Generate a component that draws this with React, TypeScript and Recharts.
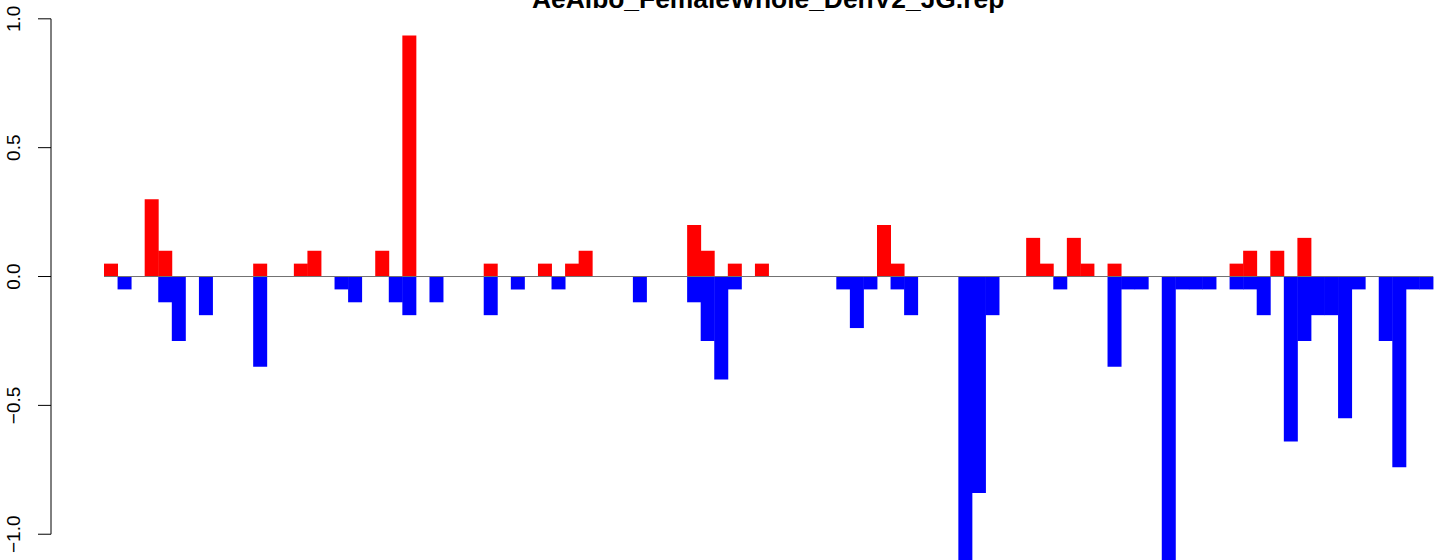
import React from "react";
import { BarChart, Bar, XAxis, YAxis, ReferenceLine } from "recharts";

const TITLE = "AeAlbo_FemaleWhole_DenV2_JG.rep";

const POSITIVE = [
  0.05, 0, 0, 0.3, 0.1, 0, 0, 0, 0, 0,
  0, 0.05, 0, 0, 0.05, 0.1, 0, 0, 0, 0,
  0.1, 0, 0.935, 0, 0, 0, 0, 0, 0.05, 0,
  0, 0, 0.05, 0, 0.05, 0.1, 0, 0, 0, 0,
  0, 0, 0, 0.2, 0.1, 0, 0.05, 0, 0.05, 0,
  0, 0, 0, 0, 0, 0, 0, 0.2, 0.05, 0,
  0, 0, 0, 0, 0, 0, 0, 0, 0.15, 0.05,
  0, 0.15, 0.05, 0, 0.05, 0, 0, 0, 0, 0,
  0, 0, 0, 0.05, 0.1, 0, 0.1, 0, 0.15, 0,
  0, 0, 0, 0, 0, 0, 0, 0,
];

const NEGATIVE = [
  0, -0.05, 0, 0, -0.1, -0.25, 0, -0.15, 0, 0,
  0, -0.35, 0, 0, 0, 0, 0, -0.05, -0.1, 0,
  0, -0.1, -0.15, 0, -0.1, 0, 0, 0, -0.15, 0,
  -0.05, 0, 0, -0.05, 0, 0, 0, 0, 0, -0.1,
  0, 0, 0, -0.1, -0.25, -0.4, -0.05, 0, 0, 0,
  0, 0, 0, 0, -0.05, -0.2, -0.05, 0, -0.05, -0.15,
  0, 0, 0, -1.15, -0.84, -0.15, 0, 0, 0, 0,
  -0.05, 0, 0, 0, -0.35, -0.05, -0.05, 0, -1.15, -0.05,
  -0.05, -0.05, 0, -0.05, -0.05, -0.15, 0, -0.64, -0.25, -0.15,
  -0.15, -0.55, -0.05, 0, -0.25, -0.74, -0.05, -0.05,
];

const CATEGORIES = POSITIVE.map((_, i) => i + 1);

const Y_TICKS = [-1, -0.5, 0, 0.5, 1];
const Y_TICK_LABELS = ["\u22121.0", "\u22120.5", "0.0", "0.5", "1.0"];

const data = CATEGORIES.map((c, i) => ({
  bin: c,
  up: POSITIVE[i],
  down: NEGATIVE[i],
}));

const CHART_W = 1444;
const CHART_H = 560;
const Y_MIN = -1.1;
const Y_MAX = 1.073;
const PPU = CHART_H / (Y_MAX - Y_MIN);
const AXIS_TOP_GAP = (Y_MAX - 1) * PPU;
const AXIS_LEN = 2 * PPU;
const PAD_L = 53;
const PAD_R = 11;

const FONT = "'Liberation Sans', Arial, Helvetica, sans-serif";

const YTick = (props: any) => {
  const { y, payload } = props;
  const idx = Y_TICKS.indexOf(payload.value);
  const label = idx >= 0 ? Y_TICK_LABELS[idx] : String(payload.value);
  const bx = 20;
  return (
    <text
      x={bx}
      y={y}
      transform={`rotate(-90, ${bx}, ${y})`}
      textAnchor="middle"
      fontFamily={FONT}
      fontSize={19}
      fill="#000"
    >
      {label}
    </text>
  );
};

const ZeroLine = (props: any) => {
  const { x1, y1, x2, y2 } = props;
  return (
    <line
      x1={x1 + PAD_L}
      y1={y1}
      x2={x2 - PAD_R}
      y2={y2}
      stroke="#707070"
      strokeWidth={1}
    />
  );
};

export default function App() {
  return (
    <div style={{ position: "absolute", top: 0, left: 0, width: CHART_W, height: CHART_H, background: "#fff" }}>
      <BarChart
        width={CHART_W}
        height={CHART_H}
        data={data}
        margin={{ top: 0, right: 0, bottom: 0, left: 0 }}
        barCategoryGap={0}
        barGap={0}
        stackOffset="sign"
      >
        <XAxis dataKey="bin" type="category" hide padding={{ left: PAD_L, right: PAD_R }} />
        <YAxis
          width={51}
          domain={[Y_MIN, Y_MAX]}
          allowDataOverflow
          ticks={Y_TICKS}
          interval={0}
          tickSize={13}
          tickLine={{ stroke: "#000", strokeWidth: 1 }}
          axisLine={{
            stroke: "#000",
            strokeWidth: 1,
            strokeDasharray: `0 ${AXIS_TOP_GAP} ${AXIS_LEN} ${CHART_H * 2}`,
          }}
          tick={<YTick />}
        />
        <ReferenceLine y={0} ifOverflow="visible" shape={<ZeroLine />} />
        <Bar dataKey="up" stackId="s" fill="#FF0000" isAnimationActive={false} />
        <Bar dataKey="down" stackId="s" fill="#0000FF" isAnimationActive={false} />
      </BarChart>
      <svg
        width={CHART_W}
        height={20}
        style={{ position: "absolute", top: 0, left: 0, pointerEvents: "none" }}
      >
        <text x={532} y={8} fontFamily={FONT} fontWeight="bold" fontSize={26.4} fill="#000">
          {TITLE}
        </text>
      </svg>
    </div>
  );
}
